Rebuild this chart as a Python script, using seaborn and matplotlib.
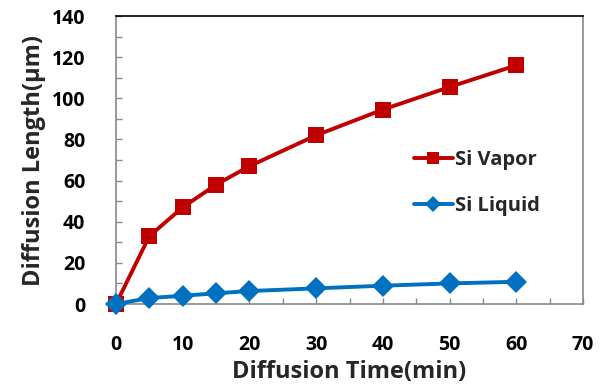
import matplotlib
matplotlib.use("Agg")
import matplotlib.pyplot as plt
import seaborn as sns
import pandas as pd
from matplotlib.ticker import MultipleLocator

time_min = [0, 5, 10, 15, 20, 30, 40, 50, 60]
si_vapor = [0, 33, 47, 58, 67, 82, 94.5, 105.5, 116]
si_liquid = [0, 2.9, 4.0, 5.2, 6.3, 7.6, 8.9, 10.0, 10.8]
series_names = ["Si Vapor", "Si Liquid"]

df = pd.DataFrame({
    "time": time_min * 2,
    "value": si_vapor + si_liquid,
    "series": [series_names[0]] * len(time_min) + [series_names[1]] * len(time_min),
})

sns.set_style("white")
plt.rcParams["font.family"] = ["Open Sans", "DejaVu Sans"]
plt.rcParams["font.weight"] = "bold"

fig = plt.figure(figsize=(6.05, 3.85), dpi=100)
ax = fig.add_axes([116 / 605, 1 - 304 / 385, (583 - 116) / 605, (304 - 16) / 385])

palette = {"Si Vapor": "#C00000", "Si Liquid": "#0070C0"}
markers = {"Si Vapor": "s", "Si Liquid": "D"}
sizes = {"Si Vapor": 12, "Si Liquid": 11}
for name in series_names:
    sub = df[df["series"] == name]
    sns.lineplot(data=sub, x="time", y="value", ax=ax, color=palette[name],
                 marker=markers[name], markersize=sizes[name], markeredgewidth=0,
                 linewidth=2.8, label=name, zorder=3 if name == "Si Liquid" else 2,
                 clip_on=False)

ax.set_xlim(0, 70)
ax.set_ylim(0, 140)
ax.xaxis.set_major_locator(MultipleLocator(10))
ax.xaxis.set_minor_locator(MultipleLocator(5))
ax.yaxis.set_major_locator(MultipleLocator(20))
ax.yaxis.set_minor_locator(MultipleLocator(10))
ax.tick_params(axis="both", which="both", direction="in", color="#888888",
               labelsize=14, labelcolor="black", width=1, length=4,
               bottom=True, left=True, top=False, right=False)
ax.tick_params(axis="x", which="major", pad=22)
ax.tick_params(axis="y", which="major", pad=22)
for lab in ax.get_xticklabels() + ax.get_yticklabels():
    lab.set_fontweight("bold")

for s in ["left", "bottom", "right"]:
    ax.spines[s].set_color("#888888")
    ax.spines[s].set_linewidth(1.2)
ax.spines["top"].set_color("black")
ax.spines["top"].set_linewidth(1.2)

ax.set_xlabel("Diffusion Time(min)", fontsize=17, fontweight="bold", labelpad=4)
ax.set_ylabel("Diffusion Length(μm)", fontsize=17, fontweight="bold", labelpad=4)

leg = ax.legend(loc="center left", bbox_to_anchor=(0.6, 0.42), frameon=False,
                fontsize=14.5, handlelength=1.9, handletextpad=0.1, labelspacing=1.25,
                markerscale=0.7)
for t in leg.get_texts():
    t.set_fontweight("bold")

fig.savefig("out.png", dpi=100)
